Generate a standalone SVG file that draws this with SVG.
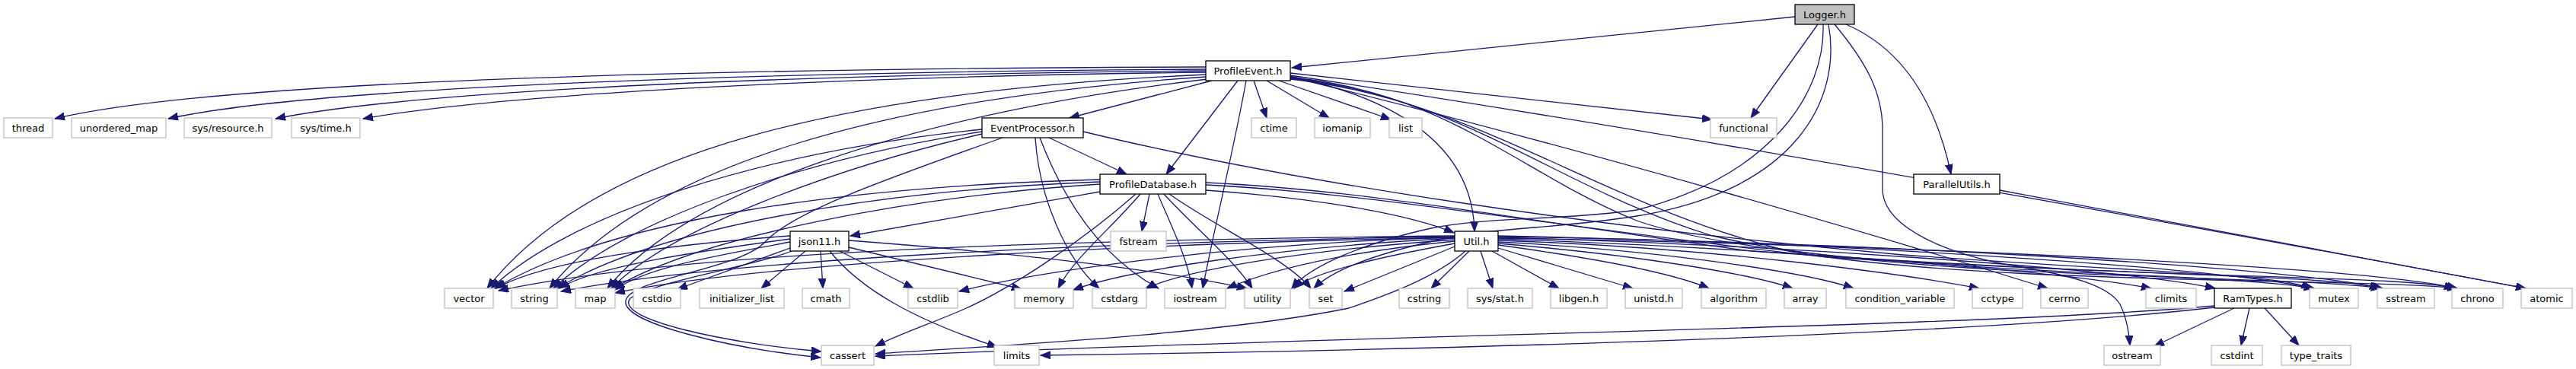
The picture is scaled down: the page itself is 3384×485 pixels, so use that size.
<svg xmlns="http://www.w3.org/2000/svg" width="3384" height="485" viewBox="0 0 3384 485">
<style>
.nd rect{fill:#ffffff;stroke:#000000;stroke-width:1.3}
.lf rect{fill:#ffffff;stroke:#bfbfbf;stroke-width:1.3}
.root rect{fill:#bfbfbf;stroke:#000000;stroke-width:1.3}
text{font-family:"DejaVu Sans","Liberation Sans",sans-serif;font-size:13px;fill:#000000;text-anchor:middle}
#edges path{fill:none;stroke:#191970;stroke-width:1.3;marker-end:url(#arr)}
</style>
<defs>
<marker id="arr" markerUnits="userSpaceOnUse" markerWidth="14" markerHeight="11" refX="13" refY="5" orient="auto">
<path d="M0,0 L13,5 L0,10 z" fill="#191970" stroke="#191970" stroke-width="1"/>
</marker>
</defs>
<rect width="3384" height="485" fill="#ffffff"/>
<g id="edges">
<path d="M2358,22 L1697,89"/>
<path d="M2388,32 L2300,155"/>
<path d="M2425,32 C2490,60 2540,120 2563,229"/>
<path d="M2410,32 C2450,80 2473,120 2473,170 L2473,250 C2475,300 2560,335 2650,350 C2720,362 2770,375 2785,400 C2795,420 2797,440 2798,454"/>
<path d="M2395,32 C2398,120 2330,230 2150,276 C2050,290 1950,285 1880,300 C1790,320 1720,350 1697,379"/>
<path d="M2402,32 C2420,130 2360,250 2150,284 C2050,300 1980,298 1905,312 C1810,332 1750,355 1726,379"/>
<path d="M2627,250 L3318,379"/>
<path d="M1584,88 C1000,90 300,102 72,156"/>
<path d="M1584,91 C1050,94 420,112 221,156"/>
<path d="M1584,93 C1100,97 560,116 362,156"/>
<path d="M1584,95 C1150,100 680,120 477,156"/>
<path d="M1592,106 L1405,155"/>
<path d="M1647,106 L1664,155"/>
<path d="M1664,106 L1746,155"/>
<path d="M1680,106 L1827,157"/>
<path d="M1695,96 L2249,157"/>
<path d="M1626,106 L1532,229"/>
<path d="M1637,106 C1620,200 1595,300 1580,379"/>
<path d="M1695,100 C1880,140 1935,220 1937,304"/>
<path d="M1584,98 C1100,120 780,200 640,379"/>
<path d="M1584,101 C1150,130 850,220 722,379"/>
<path d="M1586,104 C1200,150 900,250 798,379"/>
<path d="M1695,99 C2300,190 3000,320 3318,379"/>
<path d="M1695,101 C2100,200 2500,320 2690,379"/>
<path d="M1695,102 C1900,120 2000,230 2150,290 C2350,360 2900,355 3040,379"/>
<path d="M1695,103 C1920,125 2050,250 2250,310 C2500,370 3000,360 3128,379"/>
<path d="M1695,104 C1940,130 2100,270 2350,330 C2600,375 3100,365 3228,379"/>
<path d="M1378,181 L1480,229"/>
<path d="M1360,181 C1365,260 1400,340 1444,379"/>
<path d="M1366,181 C1400,270 1450,340 1522,379"/>
<path d="M1317,181 C1150,240 1040,280 1005,318 C970,355 830,365 822,395 C816,425 960,458 1078,470"/>
<path d="M1290,170 C1000,200 750,280 645,379"/>
<path d="M1290,173 C1050,210 820,290 727,379"/>
<path d="M1290,176 C1100,220 880,300 803,379"/>
<path d="M1423,173 C1700,240 2100,300 2500,335 C2850,360 2990,360 3036,379"/>
<path d="M1445,252 L1117,310"/>
<path d="M1510,255 L1500,304"/>
<path d="M1521,255 C1540,300 1560,340 1566,379"/>
<path d="M1529,255 C1570,300 1620,340 1645,379"/>
<path d="M1536,255 C1600,300 1690,340 1722,379"/>
<path d="M1498,255 C1460,300 1410,340 1390,379"/>
<path d="M1492,255 C1430,310 1330,380 1258,410 C1210,430 1180,440 1150,455"/>
<path d="M1584,250 C1750,262 1860,285 1910,306"/>
<path d="M1445,236 C1100,245 800,290 650,379"/>
<path d="M1445,239 C1150,250 860,300 732,379"/>
<path d="M1445,242 C1200,258 920,310 806,379"/>
<path d="M1584,240 C1800,250 2000,290 2300,330 C2800,365 3060,360 3126,379"/>
<path d="M1584,243 C1820,255 2050,300 2400,338 C2900,368 3160,362 3224,379"/>
<path d="M1038,326 L890,380"/>
<path d="M1058,330 L1000,379"/>
<path d="M1078,330 L1081,379"/>
<path d="M1103,330 L1200,379"/>
<path d="M1115,325 L1342,380"/>
<path d="M1090,330 C1130,380 1200,420 1310,456"/>
<path d="M1115,316 C1300,330 1500,350 1638,379"/>
<path d="M1038,310 C900,320 720,340 652,379"/>
<path d="M1038,314 C920,330 780,350 735,379"/>
<path d="M1038,318 C950,335 850,350 808,381"/>
<path d="M1040,330 C990,350 860,370 828,392 C805,420 960,452 1079,462"/>
<path d="M1930,330 L1880,379"/>
<path d="M1945,330 L1961,379"/>
<path d="M1960,330 L2048,379"/>
<path d="M1968,326 L2145,379"/>
<path d="M1968,322 C2100,340 2200,360 2245,379"/>
<path d="M1968,320 C2150,335 2300,360 2355,379"/>
<path d="M1968,318 C2200,330 2380,360 2435,379"/>
<path d="M1968,316 C2250,325 2500,360 2600,379"/>
<path d="M1968,314 C2300,325 2700,355 2826,379"/>
<path d="M1968,312 C2350,322 2800,355 2910,379"/>
<path d="M1968,310 C2400,318 2900,350 3040,379"/>
<path d="M1968,311 C2450,318 3000,350 3130,379"/>
<path d="M1968,313 C2500,322 3100,350 3228,379"/>
<path d="M1911,324 L1766,383"/>
<path d="M1911,320 C1800,340 1720,360 1700,379"/>
<path d="M1911,317 C1780,330 1680,350 1612,379"/>
<path d="M1911,315 C1700,330 1560,355 1505,379"/>
<path d="M1911,313 C1680,325 1480,355 1410,381"/>
<path d="M1911,312 C1600,320 1350,360 1260,383"/>
<path d="M1911,310 C1400,315 900,330 655,382"/>
<path d="M1911,311 C1450,318 960,340 737,383"/>
<path d="M1911,312 C1500,320 1000,345 808,385"/>
<path d="M1925,330 C1880,370 1800,395 1772,405 C1600,440 1300,455 1150,465"/>
<path d="M2935,405 L2830,455"/>
<path d="M2955,405 L2944,454"/>
<path d="M2975,405 L3020,454"/>
<path d="M2909,402 C2600,430 1800,440 1150,468"/>
<path d="M2909,404 C2600,440 1900,460 1367,467"/>
</g>
<g id="node-logger" class="root"><rect x="2358" y="6" width="78" height="26"/><text x="2397" y="23.5">Logger.h</text></g>
<g id="node-profileevent" class="nd"><rect x="1584" y="80" width="111" height="26"/><text x="1639.5" y="97.5">ProfileEvent.h</text></g>
<g id="node-thread" class="lf"><rect x="5" y="155" width="64" height="26"/><text x="37" y="172.5">thread</text></g>
<g id="node-unordered_map" class="lf"><rect x="94" y="155" width="124" height="26"/><text x="156" y="172.5">unordered_map</text></g>
<g id="node-sys-resource" class="lf"><rect x="242" y="155" width="115" height="26"/><text x="299.5" y="172.5">sys/resource.h</text></g>
<g id="node-sys-time" class="lf"><rect x="383" y="155" width="90" height="26"/><text x="428" y="172.5">sys/time.h</text></g>
<g id="node-eventprocessor" class="nd"><rect x="1290" y="155" width="133" height="26"/><text x="1356.5" y="172.5">EventProcessor.h</text></g>
<g id="node-ctime" class="lf"><rect x="1644" y="155" width="59" height="26"/><text x="1673.5" y="172.5">ctime</text></g>
<g id="node-iomanip" class="lf"><rect x="1727" y="155" width="73" height="26"/><text x="1763.5" y="172.5">iomanip</text></g>
<g id="node-list" class="lf"><rect x="1825" y="155" width="43" height="26"/><text x="1846.5" y="172.5">list</text></g>
<g id="node-functional" class="lf"><rect x="2247" y="155" width="87" height="26"/><text x="2290.5" y="172.5">functional</text></g>
<g id="node-profiledatabase" class="nd"><rect x="1445" y="229" width="139" height="26"/><text x="1514.5" y="246.5">ProfileDatabase.h</text></g>
<g id="node-parallelutils" class="nd"><rect x="2514" y="229" width="113" height="26"/><text x="2570.5" y="246.5">ParallelUtils.h</text></g>
<g id="node-json11" class="nd"><rect x="1038" y="304" width="77" height="26"/><text x="1076.5" y="321.5">json11.h</text></g>
<g id="node-fstream" class="lf"><rect x="1459" y="304" width="73" height="26"/><text x="1495.5" y="321.5">fstream</text></g>
<g id="node-util" class="nd"><rect x="1911" y="304" width="57" height="26"/><text x="1939.5" y="321.5">Util.h</text></g>
<g id="node-vector" class="lf"><rect x="584" y="379" width="64" height="26"/><text x="616" y="396.5">vector</text></g>
<g id="node-string" class="lf"><rect x="672" y="379" width="60" height="26"/><text x="702" y="396.5">string</text></g>
<g id="node-map" class="lf"><rect x="756" y="379" width="52" height="26"/><text x="782" y="396.5">map</text></g>
<g id="node-cstdio" class="lf"><rect x="832" y="379" width="62" height="26"/><text x="863" y="396.5">cstdio</text></g>
<g id="node-initializer_list" class="lf"><rect x="919" y="379" width="111" height="26"/><text x="974.5" y="396.5">initializer_list</text></g>
<g id="node-cmath" class="lf"><rect x="1054" y="379" width="62" height="26"/><text x="1085" y="396.5">cmath</text></g>
<g id="node-cstdlib" class="lf"><rect x="1193" y="379" width="65" height="26"/><text x="1225.5" y="396.5">cstdlib</text></g>
<g id="node-memory" class="lf"><rect x="1333" y="379" width="77" height="26"/><text x="1371.5" y="396.5">memory</text></g>
<g id="node-cstdarg" class="lf"><rect x="1435" y="379" width="71" height="26"/><text x="1470.5" y="396.5">cstdarg</text></g>
<g id="node-iostream" class="lf"><rect x="1530" y="379" width="80" height="26"/><text x="1570" y="396.5">iostream</text></g>
<g id="node-utility" class="lf"><rect x="1635" y="379" width="60" height="26"/><text x="1665" y="396.5">utility</text></g>
<g id="node-set" class="lf"><rect x="1720" y="379" width="43" height="26"/><text x="1741.5" y="396.5">set</text></g>
<g id="node-cstring" class="lf"><rect x="1838" y="379" width="66" height="26"/><text x="1871" y="396.5">cstring</text></g>
<g id="node-sys-stat" class="lf"><rect x="1928" y="379" width="85" height="26"/><text x="1970.5" y="396.5">sys/stat.h</text></g>
<g id="node-libgen" class="lf"><rect x="2037" y="379" width="74" height="26"/><text x="2074" y="396.5">libgen.h</text></g>
<g id="node-unistd" class="lf"><rect x="2135" y="379" width="75" height="26"/><text x="2172.5" y="396.5">unistd.h</text></g>
<g id="node-algorithm" class="lf"><rect x="2235" y="379" width="85" height="26"/><text x="2277.5" y="396.5">algorithm</text></g>
<g id="node-array" class="lf"><rect x="2344" y="379" width="55" height="26"/><text x="2371.5" y="396.5">array</text></g>
<g id="node-condition_variable" class="lf"><rect x="2425" y="379" width="142" height="26"/><text x="2496" y="396.5">condition_variable</text></g>
<g id="node-cctype" class="lf"><rect x="2591" y="379" width="66" height="26"/><text x="2624" y="396.5">cctype</text></g>
<g id="node-cerrno" class="lf"><rect x="2681" y="379" width="62" height="26"/><text x="2712" y="396.5">cerrno</text></g>
<g id="node-climits" class="lf"><rect x="2819" y="379" width="66" height="26"/><text x="2852" y="396.5">climits</text></g>
<g id="node-ramtypes" class="nd"><rect x="2909" y="379" width="101" height="26"/><text x="2959.5" y="396.5">RamTypes.h</text></g>
<g id="node-mutex" class="lf"><rect x="3034" y="379" width="64" height="26"/><text x="3066" y="396.5">mutex</text></g>
<g id="node-sstream" class="lf"><rect x="3123" y="379" width="75" height="26"/><text x="3160.5" y="396.5">sstream</text></g>
<g id="node-chrono" class="lf"><rect x="3221" y="379" width="67" height="26"/><text x="3254.5" y="396.5">chrono</text></g>
<g id="node-atomic" class="lf"><rect x="3312" y="379" width="67" height="26"/><text x="3345.5" y="396.5">atomic</text></g>
<g id="node-cassert" class="lf"><rect x="1079" y="454" width="69" height="26"/><text x="1113.5" y="471.5">cassert</text></g>
<g id="node-limits" class="lf"><rect x="1306" y="454" width="59" height="26"/><text x="1335.5" y="471.5">limits</text></g>
<g id="node-ostream" class="lf"><rect x="2764" y="454" width="74" height="26"/><text x="2801" y="471.5">ostream</text></g>
<g id="node-cstdint" class="lf"><rect x="2905" y="454" width="67" height="26"/><text x="2938.5" y="471.5">cstdint</text></g>
<g id="node-type_traits" class="lf"><rect x="2997" y="454" width="91" height="26"/><text x="3042.5" y="471.5">type_traits</text></g>
</svg>
